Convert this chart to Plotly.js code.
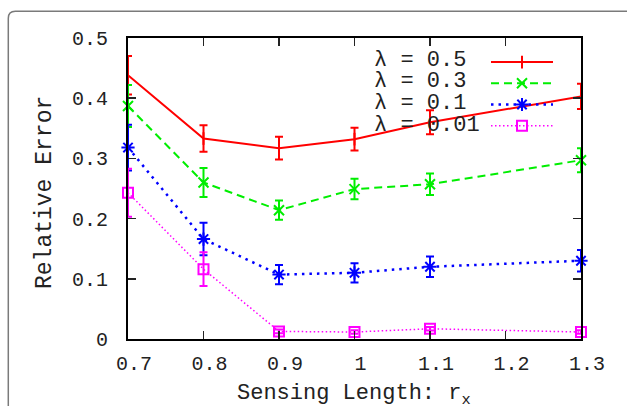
<!DOCTYPE html>
<html>
<head>
<meta charset="utf-8">
<script src="https://cdn.plot.ly/plotly-3.0.1.min.js"></script>
<style>html,body{margin:0;padding:0;background:#fff;}#chart{width:627px;height:406px;}</style>
</head>
<body>
<div id="chart"></div>
<script>
const sensingLength = [0.7, 0.8, 0.9, 1.0, 1.1, 1.3];
const seriesNames = ["λ = 0.5", "λ = 0.3", "λ = 0.1", "λ = 0.01"];
const err05 = [0.438, 0.333, 0.317, 0.332, 0.360, 0.403];
const sd05  = [0.032, 0.022, 0.019, 0.019, 0.020, 0.021];
const err03 = [0.387, 0.260, 0.214, 0.249, 0.257, 0.297];
const sd03  = [0.035, 0.024, 0.016, 0.017, 0.018, 0.020];
const err01 = [0.318, 0.166, 0.107, 0.110, 0.120, 0.130];
const sd01  = [0.038, 0.027, 0.016, 0.016, 0.017, 0.018];
const err001 = [0.243, 0.116, 0.0126, 0.0116, 0.017, 0.0116];
const sd001  = [0.040, 0.028, 0.003, 0.003, 0.003, 0.003];
const xTicks = [0.7, 0.8, 0.9, 1.0, 1.1, 1.2, 1.3];
const xTickText = ["0.7", "0.8", "0.9", "1", "1.1", "1.2", "1.3"];
const yTicks = [0, 0.1, 0.2, 0.3, 0.4, 0.5];
const yTickText = ["0", "0.1", "0.2", "0.3", "0.4", "0.5"];
const xTitle = "Sensing Length: r<sub>x</sub>";
const yTitle = "Relative Error";

const FONT = "Liberation Mono, DejaVu Sans Mono, monospace";
const L = 128, R = 46, T = 38, B = 67, W = 627, H = 406;
const pw = W - L - R, ph = H - T - B;
const px = v => (v - L) / pw;
const py = v => (H - B - v) / ph;

function mk(name, y, sd, color, dash, width, symbol, msize, lw) {
  return {
    x: sensingLength, y: y, name: " ", type: "scatter", mode: "lines+markers",
    cliponaxis: false,
    line: {color: color, dash: dash, width: width},
    marker: {symbol: symbol, size: msize, color: color, line: {color: color, width: lw}},
    error_y: {type: "data", array: sd, visible: true, color: color, thickness: 2, width: 4}
  };
}
const traces = [
  mk(seriesNames[0], err05, sd05, "#ff0000", "solid", 2, "line-ns", 9, 2),
  mk(seriesNames[1], err03, sd03, "#00ee00", "8px,5px", 2, "x-thin", 10, 2),
  mk(seriesNames[2], err01, sd01, "#0000ff", "2.5px,5px", 2.5, "asterisk", 11, 2),
  mk(seriesNames[3], err001, sd001, "#ff00ff", "1.5px,2.5px", 1.5, "square-open", 10, 2)
];

const rowY = [60, 81.7, 103.3, 125];
const annotations = seriesNames.map((n, i) => ({
  xref: "paper", yref: "paper", x: px(372), y: py(rowY[i]), xanchor: "left", yanchor: "middle",
  text: n, showarrow: false, font: {family: FONT, size: 22, color: "#222"}
}));
annotations.push({
  xref: "paper", yref: "paper", x: px(354), y: py(395), xanchor: "center", yanchor: "middle",
  text: xTitle, showarrow: false, font: {family: FONT, size: 22, color: "#222"}
});
annotations.push({
  xref: "paper", yref: "paper", x: px(45), y: py(193), xanchor: "center", yanchor: "middle",
  textangle: -90, text: yTitle, showarrow: false, font: {family: FONT, size: 23, color: "#222"}
});

const bx = 8.3, by = 11.3, rr = 7;
const border = {
  type: "path", xref: "paper", yref: "paper", layer: "below",
  path: `M ${px(bx)},${py(H + 5)} L ${px(bx)},${py(by + rr)} Q ${px(bx)},${py(by)} ${px(bx + rr)},${py(by)} L ${px(W + 5)},${py(by)}`,
  line: {color: "#7a7a7a", width: 1.5}
};

const layout = {
  width: W, height: H,
  margin: {l: L, r: R, t: T, b: B, pad: 0},
  paper_bgcolor: "#fff", plot_bgcolor: "#fff",
  font: {family: FONT, color: "#222"},
  showlegend: true,
  legend: {
    x: px(486), y: py(46.5), xanchor: "left", yanchor: "top",
    bgcolor: "rgba(0,0,0,0)", borderwidth: 0, itemwidth: 62,
    font: {family: FONT, size: 14}, tracegroupgap: 0
  },
  xaxis: {
    range: [0.7, 1.3], tickvals: xTicks, ticktext: xTickText,
    showgrid: false, zeroline: false, showline: true, linecolor: "#000", linewidth: 2,
    mirror: "allticks", ticks: "inside", ticklen: 8, tickwidth: 1.5, tickcolor: "#222",
    tickfont: {family: FONT, size: 20, color: "#222"}, ticklabelshift: 6, ticklabelstandoff: 5
  },
  yaxis: {
    range: [0, 0.5], tickvals: yTicks, ticktext: yTickText,
    showgrid: false, zeroline: false, showline: true, linecolor: "#000", linewidth: 2,
    mirror: "allticks", ticks: "inside", ticklen: 8, tickwidth: 1.5, tickcolor: "#222",
    tickfont: {family: FONT, size: 20, color: "#222"}, ticklabelstandoff: 14
  },
  shapes: [border],
  annotations: annotations
};

Plotly.newPlot("chart", traces, layout, {displayModeBar: false, staticPlot: true});
</script>
</body>
</html>
